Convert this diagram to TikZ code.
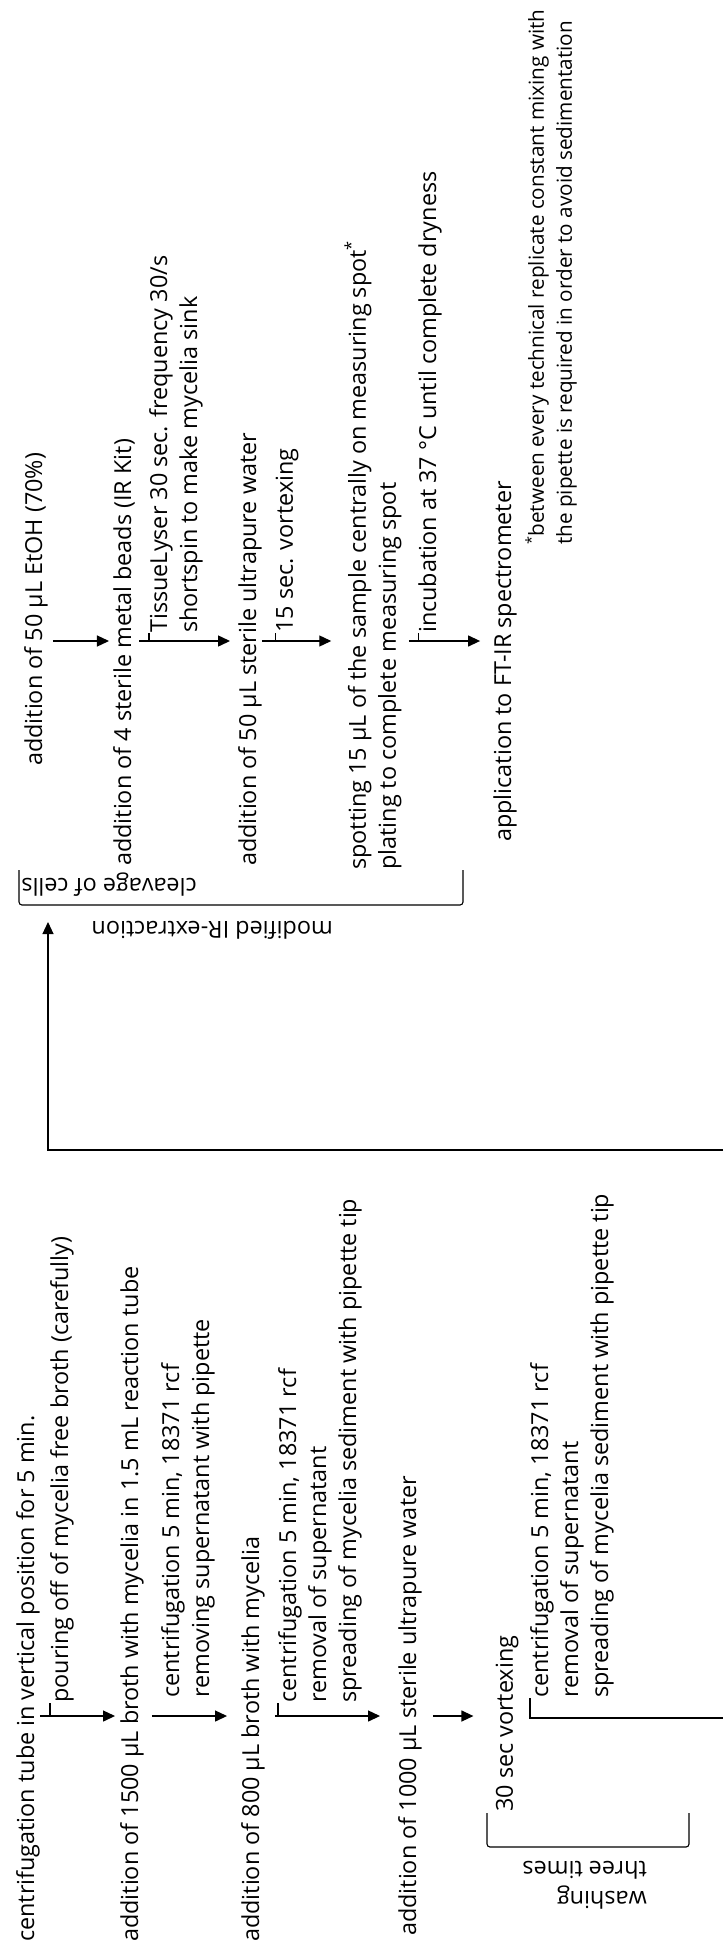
\documentclass[tikz,border=0pt]{standalone}
\usepackage{fontspec}
\setmainfont{Open Sans}
\usetikzlibrary{arrows.meta,positioning,calc}

\begin{document}
\begin{tikzpicture}[x=1pt,y=-1pt,
    flow/.style={draw,line width=1.3pt,-{Triangle[length=12pt,width=11pt]}},
    tick/.style={draw,line width=1.1pt},
    stp/.style={rotate=90,anchor=west,inner sep=0pt,align=left,font=\fontsize{23.4}{30}\selectfont},
    flip/.style={rotate=180,anchor=west,inner sep=0pt,align=left,font=\fontsize{23.4}{30}\selectfont},
    note/.style={stp,font=\fontsize{20.7}{28}\selectfont},
    brace/.style={draw,line width=1.1pt,rounded corners=3pt}]
  \useasboundingbox (0,0) rectangle (723,1950);
  \coordinate (rowA) at (0,1716);
  \coordinate (rowB) at (0,641);
  \coordinate (wout) at (723,1718);
  \coordinate (back) at (723,1150);
  \coordinate (into) at (48,922);

  \node[stp] (c0) at (28,1942) {centrifugation tube in vertical position for 5 min.};
  \node[stp] (p0) at (62,1703) {pouring off of mycelia free broth (carefully)};
  \node[stp] (c1) at (132,1942) {addition of 1500 µL broth with mycelia in 1.5 mL reaction tube};
  \node[stp] (p1) at (188,1698) {centrifugation 5 min, 18371 rcf\\removing supernatant with pipette};
  \node[stp] (c2) at (253,1942) {addition of 800 µL broth with mycelia};
  \node[stp] (p2) at (320,1703) {centrifugation 5 min, 18371 rcf\\removal of supernatant\\spreading of mycelia sediment with pipette tip};
  \node[stp] (c3) at (410,1936) {addition of 1000 µL sterile ultrapure water};
  \node[stp] (c4) at (507,1812) {30 sec vortexing};
  \node[stp] (p4) at (572,1698) {centrifugation 5 min, 18371 rcf\\removal of supernatant\\spreading of mycelia sediment with pipette tip};
  \node[flip] (wash) at (647,1885) {washing\\three times};

  \node[stp] (e0) at (36,766) {addition of 50 µL EtOH (70\%)};
  \node[stp] (e1) at (124,866) {addition of 4 sterile metal beads (IR Kit)};
  \node[stp] (q1) at (176,633) {TissueLyser 30 sec. frequency 30/s\\shortspin to make mycelia sink};
  \node[stp] (e2) at (250,866) {addition of 50 µL sterile ultrapure water};
  \node[stp] (q2) at (287,633) {15 sec. vortexing};
  \node[stp] (e3) at (373,870) {spotting 15 µL of the sample centrally on measuring spot\textsuperscript{*}\\plating to complete measuring spot};
  \node[stp] (q3) at (430,633) {incubation at 37 °C until complete dryness};
  \node[stp] (e4) at (505,842) {application to FT-IR spectrometer};
  \node[note] (fn) at (551,545) {\textsuperscript{*}between every technical replicate constant mixing with\\the pipette is required in order to avoid sedimentation};
  \node[flip] (cl) at (197,885) {cleavage of cells};
  \node[flip] (ir) at (333,930) {modified IR-extraction};

  \draw[flow,shorten >=5pt] (c0.south |- rowA) -- (c1.north |- rowA);
  \draw[flow,shorten <=8pt,shorten >=14pt] (c1.south |- rowA) -- (c2.north |- rowA);
  \draw[flow,shorten <=10pt,shorten >=18pt] (c2.south |- rowA) -- (c3.north |- rowA);
  \draw[flow,shorten <=11pt,shorten >=22pt] (c3.south |- rowA) -- (c4.north |- rowA);
  \draw[tick] (p0.north west) -- (p0.north west |- rowA);
  \draw[tick] (p2.north west) -- (p2.north west |- rowA);
  \draw[tick] (p4.north west) |- (wout);

  \draw[flow,shorten <=5pt,shorten >=4pt] (e0.south |- rowB) -- (e1.north |- rowB);
  \draw[flow,shorten <=4pt,shorten >=8pt] (e1.south |- rowB) -- (e2.north |- rowB);
  \draw[flow,shorten >=13pt] (e2.south |- rowB) -- (e3.north |- rowB);
  \draw[flow,shorten <=7pt,shorten >=13pt] (e3.south |- rowB) -- (e4.north |- rowB);
  \draw[tick] (q1.north west) -- (q1.north west |- rowB);
  \draw[tick] (q2.north west) -- (q2.north west |- rowB);
  \draw[tick] (q3.north west) -- (q3.north west |- rowB);

  \draw[brace] (19,870) -- (19,905) -- (463,905) -- (463,870);
  \draw[brace] (487,1813) -- (487,1847) -- (689,1847) -- (689,1813);
  \draw[flow,line width=1.1pt] (back) -| (into);
\end{tikzpicture}
\end{document}
